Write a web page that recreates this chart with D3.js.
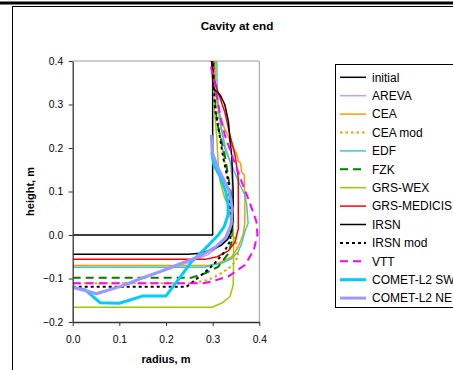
<!DOCTYPE html>
<html><head><meta charset="utf-8">
<script src="https://cdn.jsdelivr.net/npm/d3@7"></script>
<style>
body{margin:0;background:#fff;}
svg{display:block;font-family:Arial,"Liberation Sans",sans-serif;}
</style></head>
<body>
<svg id="c" width="453" height="370"></svg>
<script>
// ---- data ----
const title = "Cavity at end";
const xLabel = "radius, m";
const yLabel = "height, m";
const xTicks = [0, 0.1, 0.2, 0.3, 0.4];
const yTicks = [-0.2, -0.1, 0.0, 0.1, 0.2, 0.3, 0.4];
const seriesNames = ["initial","AREVA","CEA","CEA mod","EDF","FZK","GRS-WEX","GRS-MEDICIS","IRSN","IRSN mod","VTT","COMET-L2 SW","COMET-L2 NE"];

const initial = [[0,0],[0.3,0],[0.3,0.4]];
const AREVA = [[0,-0.2],[0,-0.12],[0.05,-0.133],[0.1,-0.119],[0.15,-0.1],[0.2,-0.081],[0.25,-0.062],[0.29,-0.045],[0.32,-0.02],[0.336,0.01],[0.342,0.06],[0.342,0.12],[0.338,0.165],[0.328,0.2],[0.316,0.26],[0.306,0.33],[0.302,0.4]];
const CEA = [[0,-0.07],[0.291,-0.07],[0.312,-0.065],[0.341,-0.05],[0.355,-0.027],[0.362,-0.008],[0.366,0.005],[0.369,0.03],[0.369,0.08],[0.368,0.11],[0.368,0.138],[0.362,0.145],[0.36,0.165],[0.355,0.17],[0.352,0.185],[0.341,0.207],[0.33,0.235],[0.319,0.26],[0.311,0.3],[0.306,0.35],[0.305,0.4]];
const CEA_mod = [[0,-0.111],[0.253,-0.111],[0.291,-0.103],[0.312,-0.092],[0.334,-0.077],[0.348,-0.062],[0.355,-0.046],[0.35,-0.02],[0.34,0.02],[0.336,0.06],[0.332,0.12],[0.324,0.18],[0.315,0.24],[0.308,0.3],[0.305,0.4]];
const EDF = [[0,-0.074],[0.284,-0.074],[0.298,-0.069],[0.319,-0.065],[0.341,-0.054],[0.355,-0.038],[0.362,-0.02],[0.369,0.008],[0.376,0.027],[0.373,0.069],[0.369,0.092],[0.355,0.123],[0.341,0.161],[0.326,0.199],[0.316,0.26],[0.31,0.32],[0.309,0.4]];
const FZK = [[0,-0.098],[0.255,-0.098],[0.284,-0.088],[0.312,-0.073],[0.334,-0.042],[0.341,-0.015],[0.344,0.03],[0.341,0.084],[0.334,0.13],[0.326,0.184],[0.309,0.26],[0.303,0.33],[0.302,0.4]];
const GRS_WEX = [[0,-0.166],[0.298,-0.166],[0.319,-0.157],[0.337,-0.142],[0.344,-0.115],[0.345,-0.05],[0.344,0.03],[0.341,0.054],[0.326,0.084],[0.316,0.123],[0.312,0.161],[0.309,0.222],[0.303,0.3],[0.3,0.4]];
const GRS_MEDICIS = [[0,-0.056],[0.284,-0.056],[0.31,-0.05],[0.334,-0.036],[0.348,-0.016],[0.355,0.015],[0.355,0.13],[0.348,0.184],[0.337,0.23],[0.326,0.283],[0.309,0.337],[0.301,0.368],[0.3,0.4]];
const IRSN = [[0,-0.044],[0.248,-0.044],[0.273,-0.042],[0.298,-0.034],[0.318,-0.024],[0.332,-0.01],[0.341,0.01],[0.344,0.04],[0.344,0.1],[0.341,0.18],[0.337,0.22],[0.334,0.26],[0.326,0.3],[0.316,0.322],[0.301,0.337],[0.298,0.4]];
const IRSN_mod = [[0,-0.119],[0.244,-0.119],[0.276,-0.092],[0.301,-0.069],[0.323,-0.042],[0.337,-0.015],[0.341,0.02],[0.338,0.054],[0.337,0.084],[0.334,0.123],[0.323,0.176],[0.316,0.222],[0.305,0.291],[0.3,0.4]];
const VTT = [[0,-0.111],[0.28,-0.111],[0.298,-0.107],[0.334,-0.095],[0.369,-0.069],[0.388,-0.035],[0.396,0],[0.394,0.03],[0.386,0.055],[0.376,0.084],[0.362,0.123],[0.341,0.184],[0.326,0.23],[0.316,0.276],[0.305,0.345],[0.297,0.383],[0.295,0.4]];
const COMET_SW = [[0,-0.121],[0.027,-0.126],[0.059,-0.156],[0.1,-0.157],[0.151,-0.14],[0.2,-0.14],[0.226,-0.103],[0.255,-0.061],[0.284,-0.031],[0.312,0],[0.325,0.02],[0.333,0.046],[0.333,0.07],[0.328,0.1],[0.316,0.135],[0.303,0.16],[0.298,0.19]];
const COMET_NE = [[0,-0.12],[0.051,-0.135],[0.103,-0.118],[0.146,-0.1],[0.19,-0.083],[0.228,-0.067],[0.27,-0.05],[0.307,-0.027],[0.328,-0.006],[0.34,0.025],[0.342,0.06],[0.336,0.1],[0.326,0.123],[0.312,0.153],[0.299,0.19],[0.297,0.23]];

const seriesData = [initial,AREVA,CEA,CEA_mod,EDF,FZK,GRS_WEX,GRS_MEDICIS,IRSN,IRSN_mod,VTT,COMET_SW,COMET_NE];
const styles = [
  {c:"#000000",w:1.5,d:null},
  {c:"#CC99FF",w:1.5,d:null},
  {c:"#FF9900",w:1.5,d:null},
  {c:"#FF9900",w:2,d:"2.5,3"},
  {c:"#33CCCC",w:1.5,d:null},
  {c:"#008000",w:2,d:"8,5"},
  {c:"#99CC00",w:1.5,d:null},
  {c:"#FF0000",w:1.5,d:null},
  {c:"#000000",w:1.5,d:null},
  {c:"#000000",w:2,d:"3,3"},
  {c:"#FF00FF",w:2,d:"8,5"},
  {c:"#00CCFF",w:3,d:null},
  {c:"#9999FF",w:3,d:null}
];

const svg = d3.select("#c");
// outer frame
svg.append("rect").attr("x",0).attr("y",1.5).attr("width",453).attr("height",3).attr("fill","#000");
svg.append("rect").attr("x",12.5).attr("y",6.5).attr("width",600).attr("height",500)
  .attr("fill","none").attr("stroke","#000").attr("stroke-width",1);

const L=72.7, R=259.3, T=61, B=322;
const x = d3.scaleLinear().domain([0,0.4]).range([L,R]);
const y = d3.scaleLinear().domain([-0.2,0.4]).range([B,T]);

// plot border (top/right gray)
svg.append("path").attr("d",`M${L},${T}H${R}V${B}`).attr("fill","none").attr("stroke","#A0A0A0").attr("stroke-width",1);

svg.append("defs").append("clipPath").attr("id","clip").append("rect")
  .attr("x",L).attr("y",T).attr("width",R-L).attr("height",B-T);

const line = d3.line().x(d=>x(d[0])).y(d=>y(d[1]));
const g = svg.append("g").attr("clip-path","url(#clip)");
seriesData.forEach((s,i)=>{
  const st=styles[i];
  g.append("path").attr("d",line(s)).attr("fill","none")
   .attr("stroke",st.c).attr("stroke-width",st.w)
   .attr("stroke-dasharray",st.d).attr("stroke-linejoin","round");
});

// axes
const fmt = d3.format(".1f");
const ax = svg.append("g").attr("transform",`translate(0,${B})`)
  .call(d3.axisBottom(x).tickValues(xTicks).tickFormat(fmt).tickSizeInner(4).tickSizeOuter(0).tickPadding(10));
const ay = svg.append("g").attr("transform",`translate(${L},0)`)
  .call(d3.axisLeft(y).tickValues(yTicks).tickFormat(fmt).tickSizeInner(4).tickSizeOuter(0).tickPadding(5.5));
[ax,ay].forEach(a=>{
  a.select(".domain").attr("stroke","#333").attr("stroke-width",1.3);
  a.selectAll(".tick line").attr("stroke","#333");
  a.selectAll("text").attr("font-size","10.3px").attr("fill","#000").attr("font-family","Arial,'Liberation Sans',sans-serif");
});

// titles
svg.append("text").attr("x",237).attr("y",30).attr("text-anchor","middle")
  .attr("font-size","11.7px").attr("font-weight","bold").text(title);
svg.append("text").attr("x",(L+R)/2).attr("y",363).attr("text-anchor","middle")
  .attr("font-size","11px").attr("font-weight","bold").text(xLabel);
svg.append("text").attr("transform",`translate(34,${(T+B)/2}) rotate(-90)`).attr("text-anchor","middle")
  .attr("font-size","11px").attr("font-weight","bold").text(yLabel);

// legend
const lg = svg.append("g");
lg.append("rect").attr("x",335.5).attr("y",64.5).attr("width",200).attr("height",243)
  .attr("fill","#fff").attr("stroke","#000").attr("stroke-width",1);
seriesNames.forEach((n,i)=>{
  const yy = 77.3 + i*18.4;
  const st=styles[i];
  lg.append("line").attr("x1",340).attr("x2",366).attr("y1",yy).attr("y2",yy)
    .attr("stroke",st.c).attr("stroke-width",st.w).attr("stroke-dasharray",st.d);
  lg.append("text").attr("x",372).attr("y",yy+4.2).attr("font-size","12px").text(n);
});
</script>
</body></html>
